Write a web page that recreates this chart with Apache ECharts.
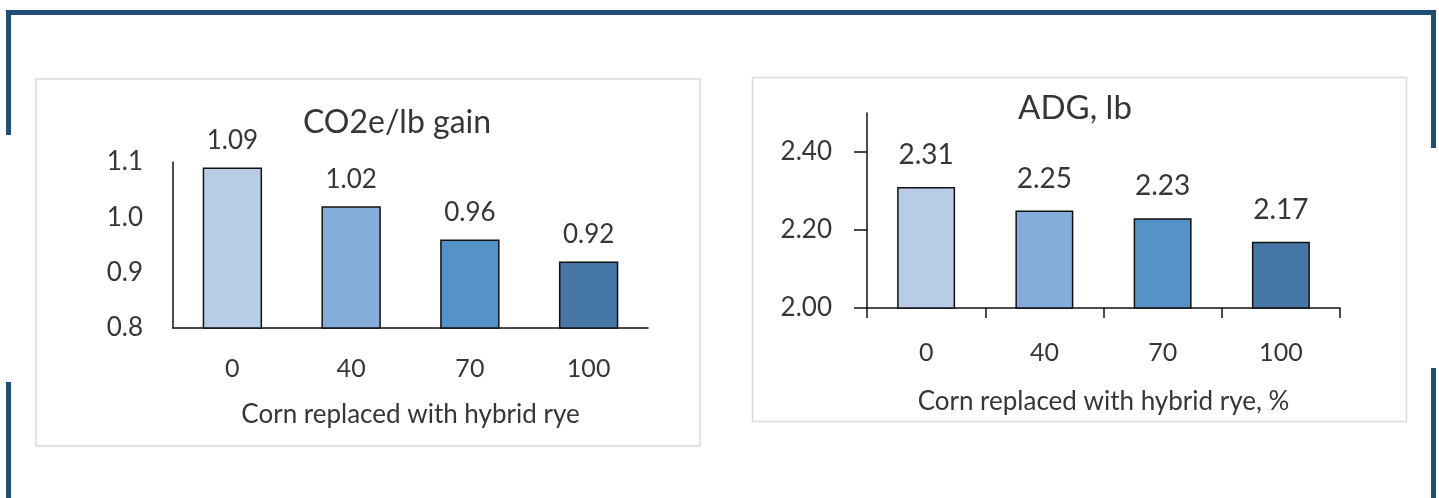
<!DOCTYPE html>
<html>
<head>
<meta charset="utf-8">
<title>Hybrid rye feeding results</title>
<script src="https://cdn.jsdelivr.net/npm/echarts@6/dist/echarts.min.js"></script>
<style>
  html, body { margin: 0; padding: 0; background: #ffffff; }
  #chart { width: 1439px; height: 498px; }
</style>
</head>
<body>
<div id="chart"></div>
<script>
// Corn replacement levels (%) shared by both panels
const categories = ['0', '40', '70', '100'];

// Left panel: CO2e per lb of gain
const co2Values = [1.09, 1.02, 0.96, 0.92];
const co2Ticks = [0.8, 0.9, 1.0, 1.1];

// Right panel: average daily gain, lb
const adgValues = [2.31, 2.25, 2.23, 2.17];
const adgTicks = [2.0, 2.2, 2.4];

// One shade per replacement level, light to dark
const barColors = ['#B8CCE6', '#84ADDB', '#5592C8', '#4677A7'];

const FONT = 'Lato, "Open Sans", sans-serif';
const TEXT = '#363636';
const FRAME = '#1F4E79';
const PANEL = '#D9D9D9';

function coloured(values) {
  return values.map((v, i) => ({ value: v, itemStyle: { color: barColors[i] } }));
}

const chart = echarts.init(document.getElementById('chart'), null, { renderer: 'canvas' });

chart.setOption({
  backgroundColor: '#ffffff',
  animation: false,
  textStyle: { fontFamily: FONT, color: TEXT },
  graphic: [
    // outer frame segments
    { type: 'rect', shape: { x: 6, y: 10, width: 1430, height: 5 }, style: { fill: FRAME } },
    { type: 'rect', shape: { x: 6, y: 10, width: 5, height: 125 }, style: { fill: FRAME } },
    { type: 'rect', shape: { x: 6, y: 382, width: 5, height: 116 }, style: { fill: FRAME } },
    { type: 'rect', shape: { x: 1431, y: 10, width: 5, height: 138 }, style: { fill: FRAME } },
    { type: 'rect', shape: { x: 1431, y: 368, width: 5, height: 130 }, style: { fill: FRAME } },
    // chart panels
    { type: 'rect', z: -1, shape: { x: 36, y: 79, width: 664, height: 367 }, style: { fill: '#fff', stroke: PANEL, lineWidth: 1.5 } },
    { type: 'rect', z: -1, shape: { x: 752.5, y: 77.5, width: 654, height: 344 }, style: { fill: '#fff', stroke: PANEL, lineWidth: 1.5 } }
  ],
  title: [
    { text: 'CO2e/lb gain', left: 392, top: 102, textAlign: 'center',
      textStyle: { fontFamily: FONT, fontSize: 32, fontWeight: 'normal', color: TEXT } },
    { text: 'ADG, lb', left: 1070, top: 87, textAlign: 'center',
      textStyle: { fontFamily: FONT, fontSize: 33, fontWeight: 'normal', color: TEXT } }
  ],
  grid: [
    { left: 173, right: 1439 - 648, top: 162, bottom: 498 - 328 },
    { left: 867, right: 1439 - 1340, top: 113, bottom: 498 - 308 }
  ],
  xAxis: [
    {
      type: 'category', gridIndex: 0, data: categories,
      axisLine: { lineStyle: { color: '#111', width: 1.5 } },
      axisTick: { show: false },
      axisLabel: { margin: 28, fontSize: 25, fontFamily: FONT, color: TEXT },
      name: 'Corn replaced with hybrid rye', nameLocation: 'middle', nameGap: 74,
      nameTextStyle: { fontSize: 26, fontFamily: FONT, color: TEXT }
    },
    {
      type: 'category', gridIndex: 1, data: categories,
      axisLine: { lineStyle: { color: '#111', width: 1.5 } },
      axisTick: { show: true, length: 10, lineStyle: { color: '#111', width: 1.5 } },
      axisLabel: { margin: 32, fontSize: 25, fontFamily: FONT, color: TEXT },
      name: 'Corn replaced with hybrid rye, %', nameLocation: 'middle', nameGap: 81,
      nameTextStyle: { fontSize: 26, fontFamily: FONT, color: TEXT }
    }
  ],
  yAxis: [
    {
      type: 'value', gridIndex: 0, min: 0.8, max: 1.1, interval: 0.1,
      splitLine: { show: false },
      axisLine: { show: true, lineStyle: { color: '#111', width: 1.5 } },
      axisTick: { show: false },
      axisLabel: { margin: 30, fontSize: 26, fontFamily: FONT, color: TEXT,
        customValues: co2Ticks, formatter: v => Number(v).toFixed(1) }
    },
    {
      type: 'value', gridIndex: 1, min: 2.0, max: 2.5,
      splitLine: { show: false },
      axisLine: { show: true, lineStyle: { color: '#111', width: 1.5 } },
      axisTick: { show: true, length: 13, customValues: adgTicks, lineStyle: { color: '#111', width: 1.5 } },
      axisLabel: { margin: 35, fontSize: 26, fontFamily: FONT, color: TEXT,
        customValues: adgTicks, formatter: v => Number(v).toFixed(2) }
    }
  ],
  series: [
    {
      type: 'bar', xAxisIndex: 0, yAxisIndex: 0, barWidth: '50%',
      data: coloured(co2Values),
      itemStyle: { borderColor: '#111', borderWidth: 1.5 },
      label: { show: true, position: 'top', distance: 14, fontSize: 26, fontFamily: FONT, color: TEXT,
        formatter: p => p.value.toFixed(2) }
    },
    {
      type: 'bar', xAxisIndex: 1, yAxisIndex: 1, barWidth: '49%',
      data: coloured(adgValues),
      itemStyle: { borderColor: '#111', borderWidth: 1.5 },
      label: { show: true, position: 'top', distance: 18, fontSize: 28, fontFamily: FONT, color: TEXT,
        formatter: p => p.value.toFixed(2) }
    }
  ]
});
</script>
</body>
</html>
